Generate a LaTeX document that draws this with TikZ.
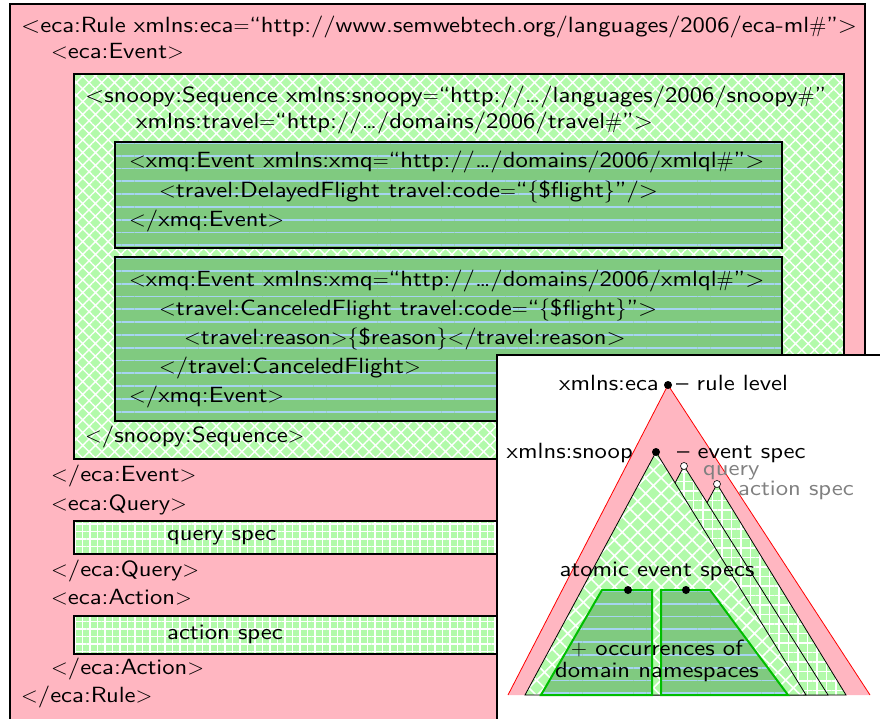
\RequirePackage{fix-cm}
\documentclass[tikz,border=0pt]{standalone}
\usepackage{fontspec}
\setsansfont{lmsans10-regular.otf}[FakeStretch=1.12]
\usetikzlibrary{patterns.meta}
\renewcommand{\familydefault}{\sfdefault}
\definecolor{rosa}{RGB}{255,182,193}
\definecolor{lgreen}{RGB}{178,250,170}
\definecolor{mgreen}{RGB}{128,202,128}
\definecolor{lblue}{RGB}{166,212,240}
\definecolor{tgreen}{RGB}{0,190,0}
\definecolor{greytxt}{RGB}{128,128,128}
\newcommand{\lt}{$<$}
\newcommand{\gt}{$>$}
\newcommand{\eq}{$=$}
\newcommand{\hsh}{$\#$}
\begin{document}
\begin{tikzpicture}[x=1pt,y=-1pt,
  font=\fontsize{22}{27}\selectfont,
  txt/.style={anchor=base west,inner sep=0pt},
  crossfill/.style={preaction={fill=lgreen},pattern={Hatch[angle=45,distance=9pt,line width=1.4pt]},pattern color=white},
  gridfill/.style={preaction={fill=lgreen},pattern={Hatch[angle=0,distance=7.5pt,line width=1.6pt]},pattern color=white},
  crossfillB/.style={preaction={fill=lgreen},pattern={Hatch[angle=45,distance=11pt,line width=1.6pt]},pattern color=white},
  gridfillB/.style={preaction={fill=lgreen},pattern={Hatch[angle=0,distance=9.5pt,line width=1.8pt]},pattern color=white},
  linefill/.style={preaction={fill=mgreen},pattern={Lines[angle=0,distance=12.8pt,line width=1.8pt]},pattern color=lblue},
  boxnode/.style={anchor=north west,inner sep=0pt,draw=black,line width=2pt},
  blackdot/.style={circle,fill=black,inner sep=0pt,minimum size=8pt},
  opendot/.style={circle,fill=white,draw=black,line width=0.6pt,inner sep=0pt,minimum size=7pt}]
\useasboundingbox (0,0) rectangle (880,719);

% outer rule box and nested boxes
\node[boxnode,fill=rosa,minimum width=855pt,minimum height=730pt] (rule) at (9,3) {};
\node[boxnode,crossfill,minimum width=770pt,minimum height=385pt] (seq) at (73,73) {};
\node[boxnode,linefill,minimum width=667pt,minimum height=106pt] (ev1) at (114,141) {};
\node[boxnode,linefill,minimum width=667pt,minimum height=164pt] (ev2) at (114,256) {};
\node[boxnode,gridfill,minimum width=770pt,minimum height=33pt] (qbox) at (73,520) {};
\node[boxnode,gridfill,minimum width=770pt,minimum height=38pt] (abox) at (73,615) {};

% markup text
\node[txt] (t1) at (21,33) {<eca:Rule xmlns:eca\eq“http://www.semwebtech.org/languages/2006/eca-ml\hsh”>};
\node[txt] (t2) at (51,59) {\lt eca:Event\gt};
\node[txt] (t3) at (85,103) {<snoopy:Sequence xmlns:snoopy\eq“http://\ldots/languages/2006/snoopy\hsh”};
\node[txt] (t4) at (136,129) {xmlns:travel\eq“http://\ldots/domains/2006/travel\hsh”>};
\node[txt] (t5) at (129,168) {\lt xmq:Event xmlns:xmq\eq“http://\ldots/domains/2006/xmlql\hsh”>};
\node[txt] (t6) at (159,198) {\lt travel:DelayedFlight travel:code\eq“$\{$\$flight$\}$”/>};
\node[txt] (t7) at (129,227) {\lt/xmq:Event\gt};
\node[txt] (t8) at (129,286) {\lt xmq:Event xmlns:xmq\eq“http://\ldots/domains/2006/xmlql\hsh”>};
\node[txt] (t9) at (159,315) {\lt travel:CanceledFlight travel:code\eq“$\{$\$flight$\}$”>};
\node[txt] (t10) at (184,344) {\lt travel:reason\gt$\{$\$reason$\}$\lt/travel:reason>};
\node[txt] (t11) at (159,373) {\lt/travel:CanceledFlight\gt};
\node[txt] (t12) at (129,402) {\lt/xmq:Event\gt};
\node[txt] (t13) at (85,442) {\lt/snoopy:Sequence\gt};
\node[txt] (t14) at (51,481) {\lt/eca:Event\gt};
\node[txt] (t15) at (51,510) {\lt eca:Query\gt};
\node[txt] (t16) at (167,540) {query spec};
\node[txt] (t17) at (51,576) {\lt/eca:Query\gt};
\node[txt] (t18) at (51,604) {\lt eca:Action\gt};
\node[txt] (t19) at (167,639) {action spec};
\node[txt] (t20) at (51,674) {\lt/eca:Action\gt};
\node[txt] (t21) at (21,702) {\lt/eca:Rule\gt};

% inset with the tree of namespaces
\node[anchor=north west,inner sep=0pt,fill=white,draw=black,line width=1.5pt,
      minimum width=400pt,minimum height=380pt] (inset) at (496,354) {};

\coordinate (rtop) at (668,385);
\coordinate (rl) at (508,695);
\coordinate (rr) at (870,695);
\fill[rosa] (rtop) -- (rr) -- (rl) -- cycle;
\draw[red,line width=0.8pt] (rl) -- (rtop) -- (rr);

\coordinate (atop) at (717,484);
\coordinate (qtop) at (684,466);
\coordinate (etop) at (656,452);
\draw[gridfillB,draw=black,line width=0.8pt] (atop) -- (846,695) -- (605,695) -- cycle;
\draw[gridfillB,draw=black,line width=0.8pt] (qtop) -- (828,695) -- (563,695) -- cycle;
\draw[crossfillB,draw=black,line width=0.8pt] (etop) -- (806,695) -- (525,695) -- cycle;

\draw[linefill,draw=tgreen,line width=2pt] (602,590) -- (652,590) -- (652,695) -- (541,695) -- cycle;
\draw[linefill,draw=tgreen,line width=2pt] (661,590) -- (710,590) -- (788,695) -- (661,695) -- cycle;

\node[blackdot] (deca) at (rtop) {};
\node[blackdot] (dsnoop) at (etop) {};
\node[opendot] (dquery) at (qtop) {};
\node[opendot] (daction) at (atop) {};
\node[blackdot] (datom1) at (628,590) {};
\node[blackdot] (datom2) at (686,590) {};

\node[anchor=base east,inner sep=0pt] (leca) at (659,390) {xmlns:eca};
\node[txt] (lrule) at (676,390) {– rule level};
\node[anchor=base east,inner sep=0pt] (lsnoop) at (633,458) {xmlns:snoop};
\node[txt] (levent) at (677,458) {– event spec};
\node[txt,text=greytxt] (lquery) at (703,475) {query};
\node[txt,text=greytxt] (laction) at (738,495) {action spec};
\node[anchor=base,inner sep=0pt] (latomic) at (657,576) {atomic event specs};
\node[anchor=base,inner sep=0pt] (locc) at (657,655) {$+$ occurrences of};
\node[anchor=base,inner sep=0pt] (ldom) at (657,677) {domain namespaces};
\end{tikzpicture}
\end{document}
